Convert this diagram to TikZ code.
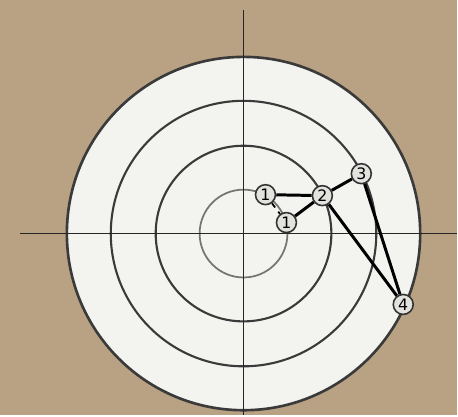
\documentclass[tikz,border=0pt]{standalone}
\usepackage{fontspec}
\setsansfont{DejaVu Sans}
\usepackage{tikz}
\usetikzlibrary{positioning}
\definecolor{paperbrown}{HTML}{B9A184}
\definecolor{diskwhite}{HTML}{F3F3F0}
\definecolor{ringgray}{HTML}{3A3A3A}

\begin{document}
\begin{tikzpicture}[x=0.02cm, y=0.02cm, every node/.style={font=\sffamily\small},
  ring/.style={draw=ringgray, line width=1.2pt},
  axis/.style={draw=black!85, line width=1pt},
  hit/.style={circle, draw=black!80, line width=0.9pt, fill=diskwhite!85!gray, inner sep=0pt, minimum size=0.4cm},
  link/.style={draw=black, line width=1.7pt}]
  % paper and target
  \fill[paperbrown] (-244,-182) rectangle (214,234);
  \fill[diskwhite] (0,0) circle (177);
  \draw[ring, line width=1.5pt] (0,0) circle (177);
  \draw[ring] (0,0) circle (133);
  \draw[ring] (0,0) circle (88);
  \draw[ring, line width=1pt, draw=ringgray!70] (0,0) circle (44);
  \draw[axis] (0,224) -- (0,-182);
  \draw[axis] (-224,0) -- (214,0);

  % shots
  \node[hit] (shotA) at (22,39) {1};
  \node[hit] (shotB) at (43,11) {1};
  \node[hit] (second) at (79,38) {2};
  \node[hit] (third) at (118,60) {3};
  \node[hit] (fourth) at (160,-71) {4};
  \draw[line width=1pt, dashed] (shotA) -- (shotB);
  \draw[link] (shotA) -- (second);
  \draw[link] (shotB) -- (second);
  \draw[link] (second) -- (third);
  \draw[link] (second) -- (fourth);
  \draw[link] (third) -- (fourth);
\end{tikzpicture}
\end{document}
